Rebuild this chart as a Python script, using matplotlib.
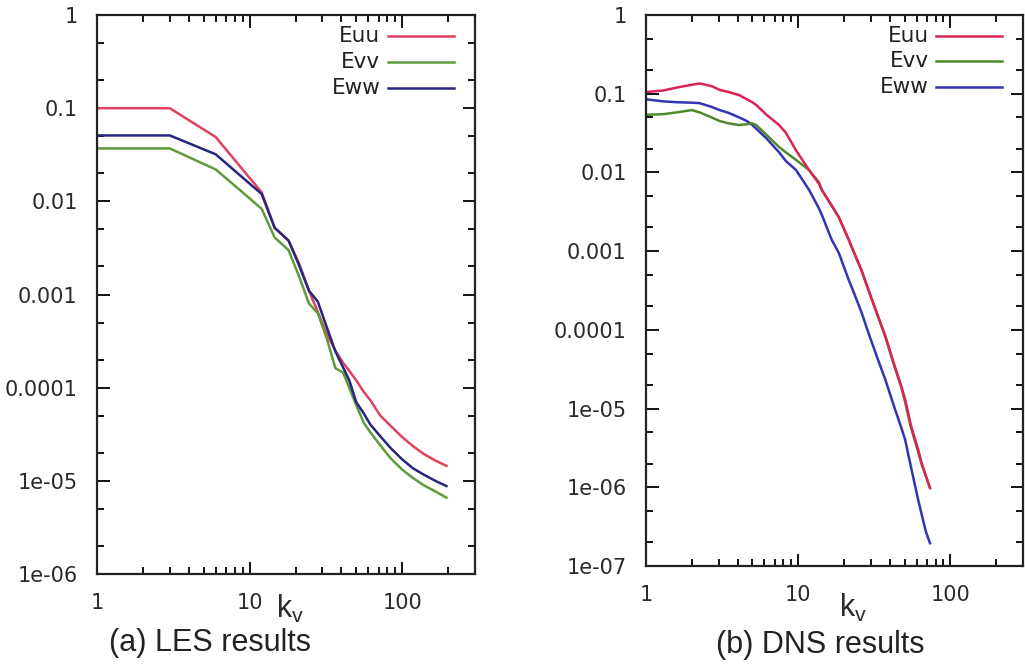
import matplotlib.pyplot as plt
from matplotlib.ticker import LogLocator, NullFormatter, FixedLocator, FixedFormatter

# (a) LES results
les_k = [1, 3, 6, 9, 12, 14.6, 18, 21, 24.5, 28, 32, 36.5, 41, 45, 50, 56, 62, 72, 84,
         100, 118, 138, 165, 195]
les_uu = [0.1, 0.1, 0.049, 0.022, 0.0125, 0.0052, 0.0038, 0.0022, 0.0011, 0.00065, 0.00038,
          0.00025, 0.000185, 0.000152, 0.00012, 9.0e-05, 7.3e-05, 5.0e-05, 3.9e-05,
          2.95e-05, 2.35e-05, 1.95e-05, 1.65e-05, 1.45e-05]
les_vv = [0.037, 0.037, 0.022, 0.0125, 0.0083, 0.0041, 0.003, 0.0016, 0.0008, 0.00063, 0.00034,
          0.000162, 0.000145, 0.0001, 6.5e-05, 4.2e-05, 3.3e-05, 2.4e-05, 1.75e-05,
          1.32e-05, 1.07e-05, 9.0e-06, 7.7e-06, 6.6e-06]
les_ww = [0.051, 0.051, 0.032, 0.018, 0.012, 0.0052, 0.0038, 0.0021, 0.0011, 0.00084, 0.00045,
          0.000245, 0.000165, 0.00012, 7.0e-05, 5.3e-05, 4.0e-05, 3.0e-05, 2.25e-05,
          1.7e-05, 1.36e-05, 1.17e-05, 1.0e-05, 8.8e-06]

# (b) DNS results
dns_k = [1, 1.3, 1.6, 2.0, 2.25, 2.7, 3.05, 3.5, 4.1, 4.6, 5.0, 5.3, 6.2, 7.5, 8.3, 9.7,
         11.8, 13.7, 14.3, 16.6, 18.5, 21.5, 22.6, 26, 29, 33, 37.5, 43, 47.5, 50.5, 55,
         61.5, 64.5, 69, 73.5]
dns_uu = [0.105, 0.11, 0.12, 0.13, 0.135, 0.125, 0.112, 0.105, 0.096, 0.085, 0.078, 0.072,
          0.054, 0.04, 0.032, 0.019, 0.0107, 0.0072, 0.006, 0.0038, 0.0027, 0.0014, 0.0011,
          0.00058, 0.00032, 0.00016, 8.2e-05, 3.5e-05, 1.95e-05, 1.3e-05, 6.2e-06, 3.0e-06,
          2.1e-06, 1.4e-06, 9.8e-07]
dns_vv = [0.054, 0.055, 0.058, 0.062, 0.058, 0.05, 0.045, 0.042, 0.04, 0.041, 0.042, 0.04,
          0.03, 0.021, 0.018, 0.0144, 0.0107, 0.0075, 0.006, 0.0038, 0.0027, 0.0014, 0.0011,
          0.00058, 0.00032, 0.00016, 8.1e-05, 3.4e-05, 1.9e-05, 1.2e-05, 5.8e-06, 2.8e-06,
          2.0e-06, 1.4e-06, 9.8e-07]
dns_ww = [0.085, 0.08, 0.078, 0.077, 0.076, 0.068, 0.062, 0.057, 0.05, 0.045, 0.04, 0.036,
          0.027, 0.018, 0.014, 0.0107, 0.006, 0.0035, 0.0029, 0.0014, 0.00095, 0.00043,
          0.00034, 0.00017, 9.1e-05, 4.5e-05, 2.3e-05, 1.02e-05, 5.8e-06, 4.0e-06, 1.85e-06,
          6.9e-07, 4.7e-07, 2.75e-07, 1.95e-07]

labels = ['Euu', 'Evv', 'Eww']
les_colors = ['#e2405e', '#5f9a3c', '#26267e']
dns_colors = ['#dc2352', '#4e8a2c', '#3434b4']

plt.rcParams['mathtext.fontset'] = 'custom'
plt.rcParams['mathtext.rm'] = 'Liberation Sans'

fig = plt.figure(figsize=(10.25, 6.68), dpi=100)
ax1 = fig.add_axes([0.0946, 0.1407, 0.3688, 0.8368])
ax2 = fig.add_axes([0.6302, 0.1527, 0.3678, 0.8248])


def setup(ax, ymin, ylabels, yvals, kx, ky):
    ax.set_xscale('log')
    ax.set_yscale('log')
    ax.set_xlim(1, 300)
    ax.set_ylim(ymin, 1)
    ax.xaxis.set_major_locator(FixedLocator([1, 10, 100]))
    ax.xaxis.set_major_formatter(FixedFormatter(['1', '10', '100']))
    ax.xaxis.set_minor_locator(LogLocator(base=10, subs=(2, 3, 4, 5, 6, 7, 8, 9)))
    ax.xaxis.set_minor_formatter(NullFormatter())
    ax.yaxis.set_major_locator(FixedLocator(yvals))
    ax.yaxis.set_major_formatter(FixedFormatter(ylabels))
    ax.yaxis.set_minor_locator(LogLocator(base=10, subs=(2, 5)))
    ax.yaxis.set_minor_formatter(NullFormatter())
    ax.tick_params(which='both', direction='in', top=True, right=True, width=1.3,
                   labelsize=15, pad=14, labelcolor='#2a2a2a')
    ax.tick_params(which='major', length=9)
    ax.tick_params(which='minor', length=5)
    for s in ax.spines.values():
        s.set_linewidth(1.6)
        s.set_color('#222222')
    ax.set_xlabel(r'$\mathrm{k_v}$', fontsize=22, color='#2a2a2a')
    ax.xaxis.set_label_coords(kx, ky)


def legend(ax, colors):
    ys = [0.962, 0.916, 0.870]
    for lab, c, yy in zip(labels, colors, ys):
        ax.text(0.75, yy, lab, transform=ax.transAxes, ha='right', va='center',
                fontsize=15.5, color='#222222')
        ax.plot([0.77, 0.945], [yy, yy], transform=ax.transAxes, color=c, lw=1.8)


setup(ax1, 1e-6, ['1e-06', '1e-05', '0.0001', '0.001', '0.01', '0.1', '1'],
      [1e-6, 1e-5, 1e-4, 1e-3, 1e-2, 1e-1, 1], 0.51, -0.034)
for ys, c in zip([les_uu, les_vv, les_ww], les_colors):
    ax1.plot(les_k, ys, color=c, lw=1.8)
legend(ax1, les_colors)

setup(ax2, 1e-7, ['1e-07', '1e-06', '1e-05', '0.0001', '0.001', '0.01', '0.1', '1'],
      [1e-7, 1e-6, 1e-5, 1e-4, 1e-3, 1e-2, 1e-1, 1], 0.549, -0.047)
for ys, c in zip([dns_ww, dns_vv, dns_uu], [dns_colors[2], dns_colors[1], dns_colors[0]]):
    ax2.plot(dns_k, ys, color=c, lw=1.8)
legend(ax2, dns_colors)

fig.text(0.205, 0.037, '(a) LES results', fontsize=22, family='Liberation Sans',
         ha='center', va='center', color='#222222')
fig.text(0.80, 0.034, '(b) DNS results', fontsize=22, family='Liberation Sans',
         ha='center', va='center', color='#222222')

fig.savefig('out.png', dpi=100)
